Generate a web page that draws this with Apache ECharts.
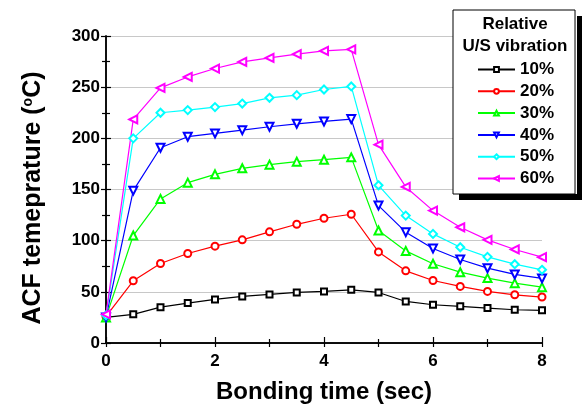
<!DOCTYPE html>
<html>
<head>
<meta charset="utf-8">
<script src="https://cdn.jsdelivr.net/npm/echarts@6/dist/echarts.min.js"></script>
<style>
html, body { margin: 0; padding: 0; background: #fff; }
#chart { width: 582px; height: 405px; }
</style>
</head>
<body>
<div id="chart"></div>
<script>
// bonding time (sec)
var times = [0, 0.5, 1, 1.5, 2, 2.5, 3, 3.5, 4, 4.5, 5, 5.5, 6, 6.5, 7, 7.5, 8];
var seriesNames = ['10%', '20%', '30%', '40%', '50%', '60%'];
var temp10 = [25, 28, 35, 39, 42.6, 45.5, 47.5, 49.4, 50.4, 52, 49.4, 40.6, 37.4, 35.8, 34.1, 32.5, 31.9];
var temp20 = [26, 60.8, 77.7, 87.5, 94.6, 100.8, 108.6, 116, 121.9, 125.8, 89, 70.5, 61.1, 55.3, 50.4, 47.1, 44.9];
var temp30 = [25, 105, 140.8, 156.7, 164.8, 170.7, 174.3, 177.2, 179.1, 181.4, 109.9, 90, 77.4, 69.2, 63.4, 58.5, 54.6];
var temp40 = [25, 148.9, 190.8, 201.6, 204.8, 208, 211.3, 214.2, 216.5, 218.8, 134.3, 108.3, 92.3, 81.6, 73.1, 67, 63.1];
var temp50 = [27, 200, 225, 227.6, 230.5, 234, 239.6, 242.2, 247.7, 250.7, 154.1, 124.5, 106.6, 93.6, 84.2, 77, 71.5];
var temp60 = [28, 218.5, 249.3, 260, 268.2, 274.7, 278.6, 282.2, 285.4, 287, 193.8, 152.5, 129.4, 113.1, 100.8, 91.4, 83.9];

var allTemps = [temp10, temp20, temp30, temp40, temp50, temp60];
var colors = ['#000000', '#ff0000', '#00ff00', '#0000ff', '#00ffff', '#ff00ff'];
var symbols = ['emptyRect', 'emptyCircle', 'emptyTriangle', 'emptyTriangle', 'emptyDiamond', 'emptyTriangle'];
var rotates = [0, 0, 0, 180, 0, 90];
var sizes = [6, 7, 8, 8, 8, 8];

var font = '"Liberation Sans", Arial, sans-serif';

function pairs(ys) {
  return times.map(function (t, i) { return [t, ys[i]]; });
}

var series = allTemps.map(function (ys, k) {
  return {
    name: seriesNames[k],
    type: 'line',
    data: pairs(ys),
    symbol: symbols[k],
    symbolRotate: rotates[k],
    symbolSize: sizes[k],
    color: colors[k],
    lineStyle: { width: 1.2, color: colors[k] },
    itemStyle: { color: colors[k], borderWidth: 1.2 },
    animation: false
  };
});

var chart = echarts.init(document.getElementById('chart'));
chart.setOption({
  animation: false,
  backgroundColor: '#fff',
  textStyle: { fontFamily: font },
  grid: { left: 106, right: 40, top: 36, bottom: 62, outerBoundsMode: 'none', containLabel: false },
  xAxis: [{
    type: 'value', min: 0, max: 8, interval: 2,
    name: 'Bonding time (sec)', nameLocation: 'middle', nameGap: 37,
    nameTextStyle: { fontSize: 24, fontWeight: 'bold', color: '#000', fontFamily: font },
    axisLine: { lineStyle: { color: '#000', width: 1.5 } },
    axisTick: { inside: true, length: 6, lineStyle: { color: '#000', width: 1.2 } },
    minorTick: { show: true, splitNumber: 2, length: 4, lineStyle: { color: '#000', width: 1.2 } },
    axisLabel: { fontSize: 17, fontWeight: 'bold', color: '#000', margin: 10, fontFamily: font },
    splitLine: { show: false }
  }, {
    type: 'value', position: 'top', min: 0, max: 8, interval: 1,
    axisLine: { show: true, lineStyle: { color: '#000', width: 1.5 } },
    axisTick: { inside: true, length: 4, lineStyle: { color: '#000', width: 1.2 } },
    axisLabel: { show: false },
    splitLine: { show: false }
  }],
  yAxis: [{
    type: 'value', min: 0, max: 300, interval: 50,
    name: 'ACF temeprature ({sup|o}C)', nameLocation: 'middle', nameGap: 60,
    nameTextStyle: {
      fontSize: 25, fontWeight: 'bold', color: '#000', fontFamily: font,
      padding: [0, 17, 0, 0],
      rich: { sup: { fontSize: 14, fontWeight: 'bold', verticalAlign: 'top', lineHeight: 14, fontFamily: font } }
    },
    axisLine: { show: true, lineStyle: { color: '#000', width: 1.5 } },
    axisTick: { inside: true, length: 5, lineStyle: { color: '#000', width: 1.2 } },
    minorTick: { show: true, splitNumber: 2, length: 4, lineStyle: { color: '#000', width: 1.2 } },
    axisLabel: { fontSize: 17, fontWeight: 'bold', color: '#000', margin: 6, fontFamily: font },
    splitLine: { show: true, lineStyle: { color: '#c8c8c8', width: 1 } }
  }, {
    type: 'value', position: 'right', min: 0, max: 300, interval: 50,
    axisLine: { show: true, lineStyle: { color: '#000', width: 1.5 } },
    axisTick: { inside: true, length: 5, lineStyle: { color: '#000', width: 1.2 } },
    minorTick: { show: true, splitNumber: 2, length: 4, lineStyle: { color: '#000', width: 1.2 } },
    axisLabel: { show: false },
    splitLine: { show: false }
  }],
  legend: {
    z: 20,
    orient: 'vertical',
    left: 453, top: 10,
    padding: [51, 21, 7, 24],
    backgroundColor: '#fff',
    borderColor: '#000',
    borderWidth: 1,
    itemWidth: 37, itemHeight: 6, itemGap: 4.8,
    data: seriesNames,
    textStyle: { fontSize: 17, fontWeight: 'bold', color: '#000', lineHeight: 17, fontFamily: font },
    selectedMode: false
  },
  graphic: [
    // legend box drop shadow
    { type: 'rect', z: 30, left: 577, top: 16, shape: { width: 5, height: 184 }, style: { fill: '#000' } },
    { type: 'rect', z: 30, left: 459, top: 194, shape: { width: 123, height: 6 }, style: { fill: '#000' } },
    { type: 'text', z: 30, x: 515, y: 24, style: { text: 'Relative', fill: '#000', font: 'bold 17px ' + font, align: 'center', verticalAlign: 'middle' } },
    { type: 'text', z: 30, x: 515, y: 46, style: { text: 'U/S vibration', fill: '#000', font: 'bold 17px ' + font, align: 'center', verticalAlign: 'middle' } }
  ],
  series: series
});
</script>
</body>
</html>
